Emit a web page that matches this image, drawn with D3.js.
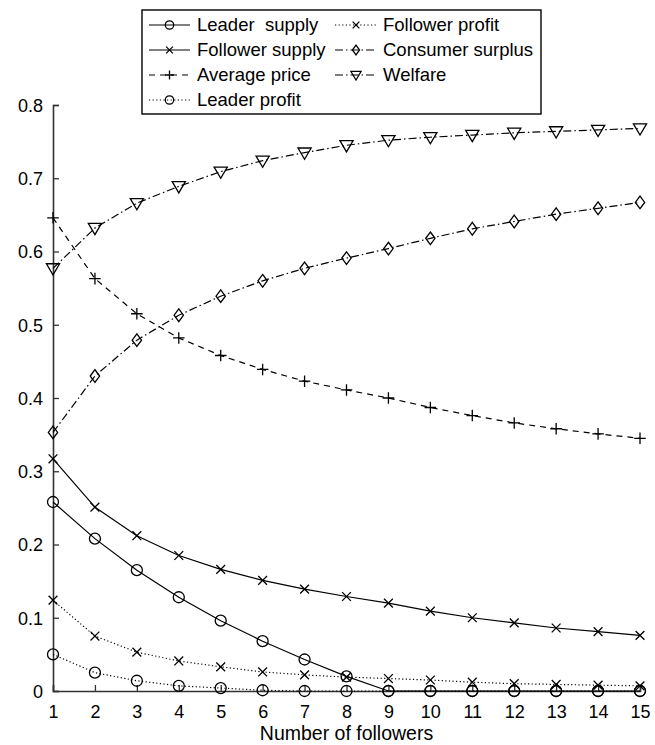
<!DOCTYPE html>
<html>
<head>
<meta charset="utf-8">
<script src="https://cdn.jsdelivr.net/npm/d3@7"></script>
<style>
  body { margin: 0; background: #fff; }
  text { font-family: "Liberation Sans", Arial, sans-serif; fill: #000; }
</style>
</head>
<body>
<div id="chart"></div>
<script>
// Data
var followers = [1,2,3,4,5,6,7,8,9,10,11,12,13,14,15];
var leaderSupply   = [0.258,0.208,0.165,0.128,0.096,0.068,0.043,0.020,0,0,0,0,0,0,0];
var followerSupply = [0.317,0.251,0.212,0.185,0.166,0.151,0.139,0.129,0.120,0.109,0.100,0.093,0.086,0.081,0.076];
var averagePrice   = [0.646,0.563,0.515,0.482,0.458,0.439,0.423,0.411,0.400,0.387,0.376,0.366,0.358,0.351,0.345];
var leaderProfit   = [0.050,0.025,0.014,0.007,0.004,0.001,0,0,0,0,0,0,0,0,0];
var followerProfit = [0.124,0.075,0.053,0.041,0.033,0.026,0.022,0.019,0.017,0.015,0.012,0.010,0.009,0.008,0.007];
var consumerSurplus= [0.353,0.430,0.479,0.513,0.539,0.560,0.577,0.591,0.604,0.618,0.631,0.641,0.651,0.659,0.667];
var welfare        = [0.577,0.632,0.666,0.689,0.709,0.724,0.735,0.745,0.752,0.756,0.759,0.762,0.764,0.766,0.768];
var yTicks = [0,0.1,0.2,0.3,0.4,0.5,0.6,0.7,0.8];

var series = [
  {name:'Leader  supply',   values:leaderSupply,    dash:null,         marker:'circle'},
  {name:'Follower supply',  values:followerSupply,  dash:null,         marker:'x'},
  {name:'Average price',    values:averagePrice,    dash:'6,5',        marker:'plus'},
  {name:'Leader profit',    values:leaderProfit,    dash:'1.2,2.4',    marker:'circle'},
  {name:'Follower profit',  values:followerProfit,  dash:'1.2,2.4',    marker:'x'},
  {name:'Consumer surplus', values:consumerSurplus, dash:'8,3,1.5,3',  marker:'diamond'},
  {name:'Welfare',          values:welfare,         dash:'8,3,1.5,3',  marker:'triangle'}
];

var W = 655, H = 745;
var svg = d3.select('#chart').append('svg').attr('width',W).attr('height',H);

var x = d3.scaleLinear().domain([1,15]).range([53,640]);
var y = d3.scaleLinear().domain([0,0.8]).range([691,105]);

// markers
function drawMarker(g, type, r){
  if(type==='circle'){
    g.append('circle').attr('r',r).attr('fill','none').attr('stroke','#000').attr('stroke-width',1.3);
  } else if(type==='x'){
    var s = r*0.8;
    g.append('path').attr('d','M'+(-s)+','+(-s)+'L'+s+','+s+'M'+(-s)+','+s+'L'+s+','+(-s))
      .attr('stroke','#000').attr('stroke-width',1.3).attr('fill','none');
  } else if(type==='plus'){
    var p = r*1.05;
    g.append('path').attr('d','M'+(-p)+',0L'+p+',0M0,'+(-p)+'L0,'+p)
      .attr('stroke','#000').attr('stroke-width',1.3).attr('fill','none');
  } else if(type==='diamond'){
    var dw = r*0.85, dh = r*1.15;
    g.append('path').attr('d','M0,'+(-dh)+'L'+dw+',0L0,'+dh+'L'+(-dw)+',0Z')
      .attr('stroke','#000').attr('stroke-width',1.3).attr('fill','none');
  } else if(type==='triangle'){
    var t = r*1.2;
    g.append('path').attr('d','M'+(-t)+','+(-t*0.7)+'L'+t+','+(-t*0.7)+'L0,'+(t*1.0)+'Z')
      .attr('stroke','#000').attr('stroke-width',1.3).attr('fill','none');
  }
}

// Axes
var yAxis = svg.append('g').attr('transform','translate(53,0)')
  .call(d3.axisRight(y).tickValues(yTicks).tickSize(6).tickFormat(function(d){ return d===0 ? '0' : d3.format('.1f')(d); }));
yAxis.select('.domain').attr('stroke','#333').attr('stroke-width',1.6);
yAxis.selectAll('.tick line').attr('stroke','#333').attr('stroke-width',1.3);
yAxis.selectAll('.tick text').attr('x',-10).attr('text-anchor','end').attr('dy','0.35em')
  .style('font-size','18px');

var xAxis = svg.append('g').attr('transform','translate(0,691)')
  .call(d3.axisTop(x).tickValues(followers).tickSize(6).tickFormat(d3.format('d')));
xAxis.select('.domain').attr('stroke','#333').attr('stroke-width',1.6);
xAxis.selectAll('.tick line').attr('stroke','#333').attr('stroke-width',1.3);
xAxis.selectAll('.tick text').attr('y',21).attr('dy','0.35em').style('font-size','18px');

svg.append('text').attr('x',(x(1)+x(15))/2).attr('y',740).attr('text-anchor','middle')
  .style('font-size','19.5px').text('Number of followers');

// Lines + markers
var line = d3.line().x(function(d,i){ return x(followers[i]); }).y(function(d){ return y(d); });

series.forEach(function(s){
  svg.append('path').datum(s.values).attr('d',line)
    .attr('fill','none').attr('stroke','#000').attr('stroke-width',1.2)
    .attr('stroke-dasharray',s.dash);
  s.values.forEach(function(v,i){
    var g = svg.append('g').attr('transform','translate('+x(followers[i])+','+y(v)+')');
    drawMarker(g, s.marker, 5.5);
  });
});

// Legend
var legend = svg.append('g');
legend.append('rect').attr('x',142).attr('y',10).attr('width',399).attr('height',104)
  .attr('fill','#fff').attr('stroke','#000').attr('stroke-width',1.4);

var cols = [{lx0:149, lx1:190, tx:197}, {lx0:335, lx1:377, tx:383}];
series.forEach(function(s,i){
  var c = i < 4 ? cols[0] : cols[1];
  var row = i < 4 ? i : i-4;
  var cy = 25 + row*25;
  legend.append('line').attr('x1',c.lx0).attr('x2',c.lx1).attr('y1',cy).attr('y2',cy)
    .attr('stroke','#000').attr('stroke-width',1.2).attr('stroke-dasharray',s.dash);
  var g = legend.append('g').attr('transform','translate('+((c.lx0+c.lx1)/2)+','+cy+')');
  drawMarker(g, s.marker, 4.2);
  legend.append('text').attr('x',c.tx).attr('y',cy).attr('dy','0.35em')
    .style('font-size','18.5px').style('white-space','pre').attr('xml:space','preserve').text(s.name);
});
</script>
</body>
</html>
